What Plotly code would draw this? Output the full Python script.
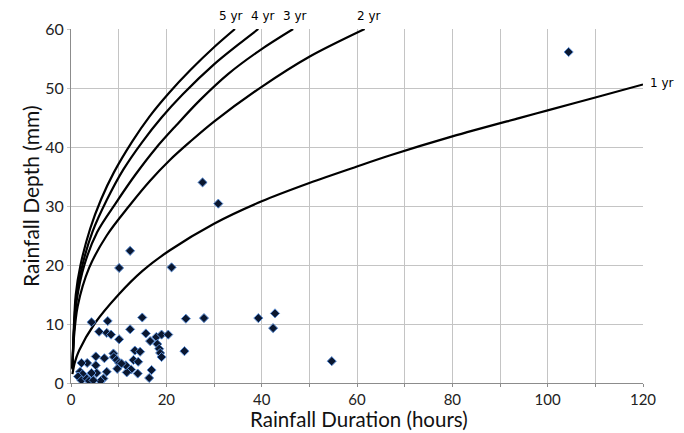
import plotly.graph_objects as go

# Observed storms
obs_duration = [104.4, 27.6, 30.9, 12.4, 10.1, 21.1, 39.3, 42.8, 42.4, 54.7, 24.1, 27.9,
                14.95, 4.3, 7.7, 5.9, 7.5, 8.4, 10.1, 12.4, 15.7, 16.6, 17.9, 19.0, 20.4,
                18.1, 18.5, 18.7, 19.0, 23.8, 13.4, 14.5, 13.1, 14.1, 14.0, 16.9, 16.4,
                12.6, 11.7, 11.5, 8.9, 9.0, 9.6, 10.1, 9.7, 10.6, 7.0, 5.2, 5.2, 7.5, 6.8,
                6.2, 5.4, 4.3, 3.4, 2.2, 1.9, 2.45, 1.5, 2.2, 3.3, 3.8, 4.7]
obs_depth = [56.1, 34.0, 30.4, 22.4, 19.5, 19.6, 11.0, 11.8, 9.3, 3.7, 10.9, 11.0,
             11.1, 10.3, 10.5, 8.7, 8.5, 8.2, 7.4, 9.1, 8.4, 7.1, 7.8, 8.2, 8.2,
             6.6, 5.8, 5.1, 4.4, 5.4, 5.5, 5.3, 3.9, 3.6, 1.6, 2.2, 0.85,
             2.3, 1.8, 3.0, 5.0, 4.4, 3.9, 3.4, 2.4, 3.3, 4.2, 4.5, 3.0, 1.9, 0.75,
             0.35, 1.7, 1.7, 3.4, 3.4, 1.9, 1.5, 1.1, 0.45, 0.75, 0.35, 0.45]

# Return-period depth-duration curves
yr5_x = [0.3, 0.6, 1.0, 2.0, 4.0, 6.3, 9.0, 12.9, 16.5, 20.6, 25.0, 30.0, 34.4]
yr5_y = [2.5, 9.5, 15.0, 20.0, 26.1, 31.1, 35.7, 41.0, 45.2, 49.2, 53.0, 56.9, 60.0]
yr4_x = [0.3, 0.6, 1.1, 2.4, 4.5, 7.5, 11.0, 14.9, 19.0, 23.4, 30.0, 35.0, 39.3]
yr4_y = [2.5, 8.5, 14.5, 20.0, 25.6, 31.0, 36.2, 40.8, 45.0, 48.9, 54.0, 57.3, 60.0]
yr3_x = [0.3, 0.6, 1.2, 2.8, 5.5, 9.4, 13.5, 17.8, 22.0, 27.0, 33.0, 40.0, 46.6]
yr3_y = [2.5, 8.5, 14.0, 20.0, 25.6, 30.5, 35.3, 39.8, 43.6, 47.9, 52.4, 56.6, 60.0]
yr2_x = [0.3, 0.6, 1.4, 3.8, 7.5, 12.2, 16.5, 20.75, 25.0, 30.0, 40.0, 50.0, 61.6]
yr2_y = [2.3, 7.5, 13.0, 19.5, 25.0, 30.0, 34.2, 37.8, 40.9, 44.3, 50.2, 55.3, 60.0]
yr1_x = [0.3, 0.8, 1.7, 4.9, 10.0, 15.0, 20.75, 30.0, 40.0, 50.0, 60.0, 67.0, 80.0, 94.0, 100.0, 110.0, 120.0]
yr1_y = [1.5, 3.5, 5.5, 10.0, 15.0, 19.0, 22.5, 27.0, 30.8, 33.9, 36.7, 38.6, 41.8, 44.9, 46.2, 48.4, 50.6]

curve_names = ["5 yr", "4 yr", "3 yr", "2 yr", "1 yr"]
curves_x = [yr5_x, yr4_x, yr3_x, yr2_x, yr1_x]
curves_y = [yr5_y, yr4_y, yr3_y, yr2_y, yr1_y]
# label anchor positions (data units; outside the plotting range)
label_x = [33.5, 40.2, 46.9, 62.6, 123.9]
label_y = [62.2, 62.2, 62.2, 62.2, 50.9]

x_title = "Rainfall Duration (hours)"
y_title = "Rainfall Depth (mm)"
x_ticks = [0, 10, 20, 30, 40, 50, 60, 70, 80, 90, 100, 110, 120]
x_tick_labels = ["0", "", "20", "", "40", "", "60", "", "80", "", "100", "", "120"]
y_ticks = [0, 10, 20, 30, 40, 50, 60]
X_RANGE = [0, 120]
Y_RANGE = [0, 60]

FONT = "Lato, 'Liberation Sans', sans-serif"

fig = go.Figure()
for name, cx, cy in zip(curve_names, curves_x, curves_y):
    fig.add_trace(go.Scatter(x=cx, y=cy, mode="lines", name=name,
                             line=dict(color="black", width=2.2, shape="spline", smoothing=0.9),
                             hoverinfo="skip"))

fig.add_trace(go.Scatter(x=obs_duration, y=obs_depth, mode="markers", name="Observed",
                         marker=dict(symbol="diamond", size=7, color="#0a1730",
                                     line=dict(color="#5d8fd6", width=1))))

for name, lx, ly in zip(curve_names, label_x, label_y):
    fig.add_annotation(x=(lx - X_RANGE[0]) / (X_RANGE[1] - X_RANGE[0]),
                       y=(ly - Y_RANGE[0]) / (Y_RANGE[1] - Y_RANGE[0]),
                       xref="paper", yref="paper", text=name, showarrow=False,
                       font=dict(family="Verdana, 'DejaVu Sans', sans-serif", size=12, color="black"),
                       xanchor="center", yanchor="middle")

# axis titles
fig.add_annotation(x=0.504, y=-0.1031, xref="paper", yref="paper", text=x_title,
                   showarrow=False, xanchor="center", yanchor="middle", borderpad=0,
                   font=dict(family=FONT, size=20.5, color="#111"))
fig.add_annotation(x=-0.072, y=0.528, xref="paper", yref="paper", text=y_title,
                   showarrow=False, xanchor="center", yanchor="middle", textangle=-90,
                   font=dict(family=FONT, size=21, color="#111"))

fig.update_layout(
    width=684, height=433,
    margin=dict(l=71, r=41, t=29, b=50),
    paper_bgcolor="white", plot_bgcolor="white",
    showlegend=False,
    font=dict(family=FONT, color="#222"),
)
fig.update_xaxes(range=X_RANGE, tickvals=x_ticks, ticktext=x_tick_labels,
                 showgrid=True, gridcolor="#c4c4c4", gridwidth=1,
                 showline=True, linecolor="#8c8c8c", linewidth=1,
                 ticks="outside", ticklen=3, tickcolor="#8c8c8c",
                 tickfont=dict(size=15, color="#222"), zeroline=False, automargin=False)
fig.update_yaxes(range=Y_RANGE, tickvals=y_ticks,
                 showgrid=True, gridcolor="#c4c4c4", gridwidth=1,
                 showline=True, linecolor="#8c8c8c", linewidth=1,
                 ticks="outside", ticklen=3, tickcolor="#c4c4c4",
                 tickfont=dict(size=16, color="#222"), zeroline=False, automargin=False)

fig.write_html("out.html", config={"displayModeBar": False},
               post_script="document.body.style.margin='0';document.body.style.padding='0';")
